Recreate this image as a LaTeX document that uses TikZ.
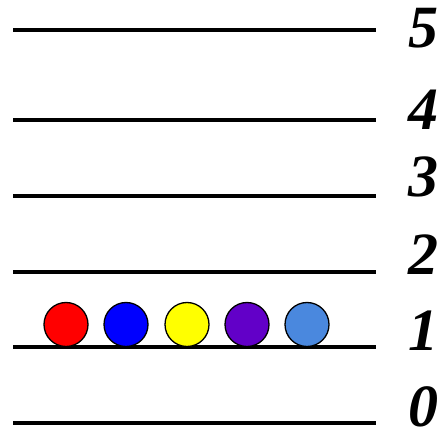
\documentclass[tikz,border=0pt]{standalone}
\usepackage{fontspec}
\setmainfont{Liberation Serif}
\definecolor{ballred}{HTML}{FF0000}
\definecolor{ballblue}{HTML}{0000FF}
\definecolor{ballyellow}{HTML}{FFFF00}
\definecolor{ballpurple}{HTML}{6200C8}
\definecolor{balllight}{HTML}{4A88DE}
\begin{document}
\begin{tikzpicture}[x=1pt,y=1pt,
  level/.style={line width=3.5pt},
  lvlabel/.style={font=\fontsize{60}{60}\selectfont\bfseries\itshape, inner sep=0pt, anchor=center},
  ball/.style={circle, draw=black, line width=1.3pt, minimum size=44pt, inner sep=0pt}]
\useasboundingbox (0,0) rectangle (446,441);
\foreach \n/\y/\ly in {5/411/413, 4/321/331, 3/245/264, 2/169/186, 1/94/110, 0/18/34} {
  \draw[level] (13,\y) -- (376,\y);
  \node[lvlabel] (lab\n) at (423,\ly) {\n};
}
\node[ball, fill=ballred] (b1) at (66,116.5) {};
\node[ball, fill=ballblue] (b2) at (126,116.5) {};
\node[ball, fill=ballyellow] (b3) at (187,116.5) {};
\node[ball, fill=ballpurple] (b4) at (247,116.5) {};
\node[ball, fill=balllight] (b5) at (307,116.5) {};
\end{tikzpicture}
\end{document}
